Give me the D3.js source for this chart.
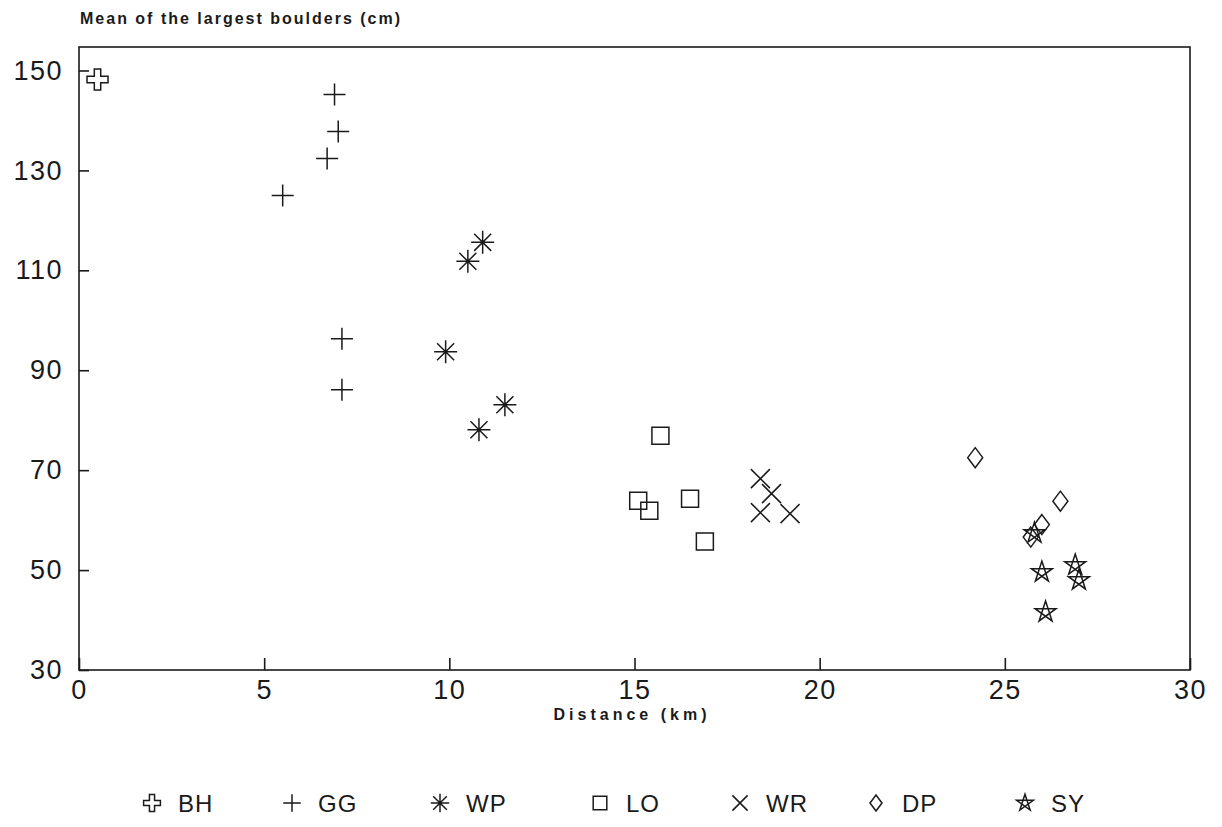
<!DOCTYPE html>
<html>
<head>
<meta charset="utf-8">
<script src="https://cdn.jsdelivr.net/npm/d3@7"></script>
<style>
  body { margin: 0; background: #fff; }
  svg { display: block; font-family: "Liberation Sans", Arial, sans-serif; }
  .axis path, .axis line { stroke: #1a1a1a; stroke-width: 1.6; }
  .axis text { fill: #1a1a1a; font-size: 27px; letter-spacing: 1.5px; }
  .axisLabel { fill: #1a1a1a; font-weight: bold; }
  .mark { fill: none; stroke: #1a1a1a; stroke-width: 1.5; }
  .legendText { fill: #1a1a1a; font-size: 24px; letter-spacing: 1px; }
</style>
</head>
<body>
<svg id="chart"></svg>
<script>
// groups, in legend order
const groups = ['BH', 'GG', 'WP', 'LO', 'WR', 'DP', 'SY'];

// distance (km) and mean of the largest boulders (cm)
const bhDist = [0.5];
const bhSize = [148.2];
const ggDist = [6.9, 7.0, 6.7, 5.5, 7.1, 7.1];
const ggSize = [145.2, 137.8, 132.4, 125.0, 96.3, 86.1];
const wpDist = [10.9, 10.5, 9.9, 11.5, 10.8];
const wpSize = [115.6, 111.8, 93.7, 83.1, 78.1];
const loDist = [15.7, 15.1, 15.4, 16.5, 16.9];
const loSize = [76.9, 63.9, 61.9, 64.3, 55.7];
const wrDist = [18.4, 18.7, 18.4, 19.2];
const wrSize = [68.3, 65.3, 61.5, 61.3];
const dpDist = [24.2, 26.5, 26.0, 25.7];
const dpSize = [72.5, 63.8, 59.1, 56.6];
const syDist = [25.8, 26.0, 26.9, 27.0, 26.1];
const sySize = [57.4, 49.6, 51.0, 48.0, 41.6];

const xTicks = [0, 5, 10, 15, 20, 25, 30];
const yTicks = [30, 50, 70, 90, 110, 130, 150];

// legend slots
const legendSymbolX = [152, 292, 440, 600, 740, 876, 1025];

const series = [
    { name: 'BH', x: bhDist, y: bhSize },
    { name: 'GG', x: ggDist, y: ggSize },
    { name: 'WP', x: wpDist, y: wpSize },
    { name: 'LO', x: loDist, y: loSize },
    { name: 'WR', x: wrDist, y: wrSize },
    { name: 'DP', x: dpDist, y: dpSize },
    { name: 'SY', x: syDist, y: sySize }
];

// marker shapes, drawn around 0,0; k scales them
const shapes = {
    BH: k => {
        const r = 10.5 * k, w = 3.2 * k;
        return `M${-w},${-r}H${w}V${-w}H${r}V${w}H${w}V${r}H${-w}V${w}H${-r}V${-w}H${-w}Z`;
    },
    GG: k => {
        const r = 11 * k;
        return `M${-r},0H${r}M0,${-r}V${r}`;
    },
    WP: k => {
        const r = 11.5 * k, d = r * 0.74;
        return `M${-r},0H${r}M0,${-r}V${r}M${-d},${-d}L${d},${d}M${-d},${d}L${d},${-d}`;
    },
    LO: k => {
        const r = 8.5 * k;
        return `M${-r},${-r}H${r}V${r}H${-r}Z`;
    },
    WR: k => {
        const r = 9.5 * k;
        return `M${-r},${-r}L${r},${r}M${-r},${r}L${r},${-r}`;
    },
    DP: k => {
        const w = 7.5 * k, h = 10 * k;
        return `M0,${-h}L${w},0L0,${h}L${-w},0Z`;
    },
    SY: k => {
        const r = 11 * k;
        let p = '';
        for (let i = 0; i < 5; i++) {
            const a = (-90 + i * 144) * Math.PI / 180;
            p += (i === 0 ? 'M' : 'L') + (r * Math.cos(a)).toFixed(2) + ',' + (r * Math.sin(a)).toFixed(2);
        }
        return p + 'Z';
    }
};

const config = {
    width: 1222,
    height: 827,
    margin: { top: 47, right: 32, bottom: 157, left: 79 }
};

const width = config.width - config.margin.left - config.margin.right;
const height = config.height - config.margin.top - config.margin.bottom;

const svg = d3.select('#chart')
    .attr('width', config.width)
    .attr('height', config.height);

const chart = svg.append('g')
    .attr('transform', `translate(${config.margin.left},${config.margin.top})`);

const xScale = d3.scaleLinear().domain([0, 30]).range([0, width]);
const yScale = d3.scaleLinear().domain([30, 154.7]).range([height, 0]);

// frame
chart.append('rect')
    .attr('width', width)
    .attr('height', height)
    .attr('fill', 'none')
    .attr('stroke', '#1a1a1a')
    .attr('stroke-width', 1.6);

const xAxis = d3.axisBottom(xScale)
    .tickValues(xTicks)
    .tickSizeInner(-12)
    .tickSizeOuter(0)
    .tickPadding(10);

const yAxis = d3.axisLeft(yScale)
    .tickValues(yTicks)
    .tickSizeInner(-10)
    .tickSizeOuter(0)
    .tickPadding(16);

chart.append('g')
    .attr('class', 'axis x-axis')
    .attr('transform', `translate(0,${height})`)
    .call(xAxis)
    .call(g => g.select('.domain').remove());

chart.append('g')
    .attr('class', 'axis y-axis')
    .call(yAxis)
    .call(g => g.select('.domain').remove());

// axis titles
svg.append('text')
    .attr('class', 'axisLabel')
    .attr('x', 80)
    .attr('y', 24)
    .style('font-size', '16px')
    .style('letter-spacing', '2px')
    .text('Mean of the largest boulders (cm)');

svg.append('text')
    .attr('class', 'axisLabel')
    .attr('x', 632)
    .attr('y', 720)
    .attr('text-anchor', 'middle')
    .style('font-size', '16px')
    .style('letter-spacing', '4px')
    .text('Distance (km)');

// points
series.forEach(s => {
    chart.selectAll(null)
        .data(s.x.map((d, i) => ({ x: d, y: s.y[i] })))
        .join('path')
        .attr('class', 'mark')
        .attr('transform', d => `translate(${xScale(d.x)},${yScale(d.y)})`)
        .attr('d', shapes[s.name](1));
});

// legend
const legend = svg.append('g')
    .selectAll('g')
    .data(groups)
    .join('g')
    .attr('transform', (d, i) => `translate(${legendSymbolX[i]},803)`);

legend.append('path')
    .attr('class', 'mark')
    .attr('d', d => shapes[d](0.8));

legend.append('text')
    .attr('class', 'legendText')
    .attr('x', 26)
    .attr('y', 9)
    .text(d => d);
</script>
</body>
</html>
